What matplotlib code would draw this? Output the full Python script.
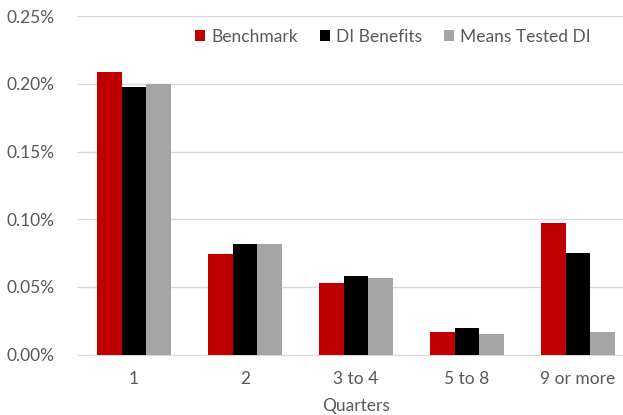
import numpy as np
import matplotlib.pyplot as plt
from matplotlib.ticker import FuncFormatter

quarters = ['1', '2', '3 to 4', '5 to 8', '9 or more']
benchmark = [0.209, 0.074, 0.053, 0.017, 0.097]
di_benefits = [0.1975, 0.082, 0.058, 0.020, 0.075]
means_tested = [0.200, 0.082, 0.0565, 0.015, 0.0167]

txt = '#595959'
plt.rcParams['font.family'] = ['Lato', 'DejaVu Sans']
fs = 12.5

fig = plt.figure(figsize=(6.23, 4.15), dpi=100)
ax = fig.add_axes([0.1257, 0.1453, 0.891, 0.8157])

x = np.arange(len(quarters))
w = 0.221
ax.bar(x - w, benchmark, w, color='#C00000', label='Benchmark', zorder=3)
ax.bar(x, di_benefits, w, color='#000000', label='DI Benefits', zorder=3)
ax.bar(x + w, means_tested, w, color='#A5A5A5', label='Means Tested DI', zorder=3)

ax.set_xlim(-0.5, len(quarters) - 0.5)
ax.set_ylim(0, 0.25)
ax.set_yticks(np.arange(0, 0.26, 0.05))
ax.yaxis.set_major_formatter(FuncFormatter(lambda v, p: '%.2f%%' % v))
ax.set_xticks(x)
ax.set_xticklabels(quarters)
ax.tick_params(length=0, colors=txt, labelsize=fs)
ax.tick_params(axis='y', pad=17)
ax.tick_params(axis='x', pad=12)
ax.grid(axis='y', color='#D9D9D9', linewidth=1, zorder=0)
for s in ['top', 'right', 'left']:
    ax.spines[s].set_visible(False)
ax.spines['bottom'].set_color('#D9D9D9')
ax.set_xlabel('Quarters', color=txt, fontsize=fs, labelpad=8)

fig.legend(loc='center', bbox_to_anchor=(0.631, 0.9116), ncol=3, frameon=False,
           handlelength=0.55, handleheight=0.55, handletextpad=0.35,
           columnspacing=1.3, labelcolor=txt, fontsize=fs)

fig.savefig('out.png', dpi=100)
